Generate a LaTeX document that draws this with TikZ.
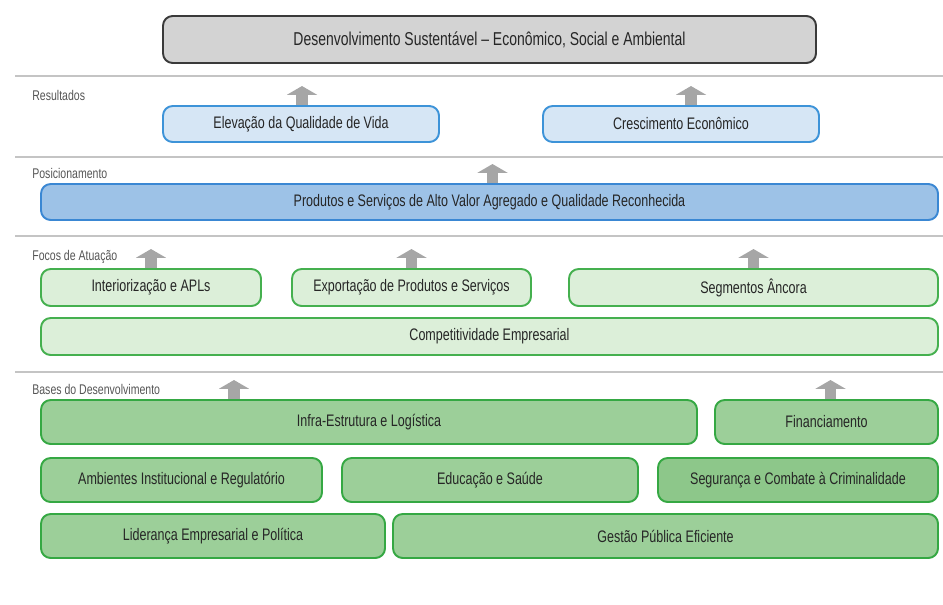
\documentclass[tikz,border=0pt]{standalone}
\usepackage{fontspec}
\setmainfont{Liberation Sans}[FakeStretch=0.75]
\usetikzlibrary{arrows.meta}

\definecolor{cinzaF}{HTML}{D3D3D3}
\definecolor{cinzaB}{HTML}{3A3A3A}
\definecolor{azulCF}{HTML}{D6E6F5}
\definecolor{azulCB}{HTML}{3D93D8}
\definecolor{azulMF}{HTML}{9DC2E7}
\definecolor{azulMB}{HTML}{3A87D3}
\definecolor{verdeCF}{HTML}{DCEFD9}
\definecolor{verdeCB}{HTML}{45B04F}
\definecolor{verdeMF}{HTML}{9CCF99}
\definecolor{verdeMB}{HTML}{35A843}
\definecolor{verdeEF}{HTML}{8DC78A}
\definecolor{textoC}{HTML}{262626}
\definecolor{rotuloC}{HTML}{555555}
\definecolor{linhaC}{HTML}{C4C4C4}
\definecolor{setaC}{HTML}{A6A6A6}

\tikzset{
  caixa/.style={draw, rounded corners=5.5pt, line width=1.1pt, inner sep=0pt,
    text=textoC, font=\fontsize{9.5}{11}\selectfont},
  topo/.style={caixa, fill=cinzaF, draw=cinzaB, font=\fontsize{10.6}{12}\selectfont},
  azulclaro/.style={caixa, fill=azulCF, draw=azulCB},
  azulmedio/.style={caixa, fill=azulMF, draw=azulMB},
  verdeclaro/.style={caixa, fill=verdeCF, draw=verdeCB},
  verdemedio/.style={caixa, fill=verdeMF, draw=verdeMB},
  verdeescuro/.style={caixa, fill=verdeEF, draw=verdeMB},
  rotulo/.style={anchor=west, inner sep=0pt, text=rotuloC, font=\fontsize{8}{9}\selectfont},
  divisa/.style={draw=linhaC, line width=1.2pt},
  seta/.style={draw=setaC, line width=6.8pt, -{Triangle[width=17pt,length=5pt]}}
}

% name, style, x1, y1, x2, y2, text
\newcommand{\bloco}[7]{%
  \node[#2, minimum width={(#5-#3)*0.02cm}, minimum height={(#6-#4)*0.02cm}]
    (#1) at ({(#3+#5)/2},{(#4+#6)/2}) {#7};}

\begin{document}
\begin{tikzpicture}[x=0.02cm,y=-0.02cm]
  \useasboundingbox (0,0) rectangle (943,605);

  % faixas
  \foreach \y in {76,157,236,372}
    \draw[divisa] (15,\y) -- (943,\y);

  \node[rotulo] (resul) at (32,95) {Resultados};
  \node[rotulo] (posic) at (32,173) {Posicionamento};
  \node[rotulo] (focos) at (32,257) {Focos de Atuação};
  \node[rotulo] (bases) at (32,389) {Bases do Desenvolvimento};

  \bloco{topo}{topo}{163}{16}{816}{63}{Desenvolvimento Sustentável – Econômico, Social e Ambiental}

  \bloco{vida}{azulclaro}{163}{106}{439}{142}{Elevação da Qualidade de Vida}
  \bloco{cresc}{azulclaro}{543}{106}{819}{142}{Crescimento Econômico}

  \bloco{prod}{azulmedio}{41}{184}{938}{220}{Produtos e Serviços de Alto Valor Agregado e Qualidade Reconhecida}

  \bloco{inter}{verdeclaro}{41}{269}{261}{306}{Interiorização e APLs}
  \bloco{expo}{verdeclaro}{292}{269}{531}{306}{Exportação de Produtos e Serviços}
  \bloco{segm}{verdeclaro}{569}{269}{938}{306}{Segmentos Âncora}
  \bloco{compet}{verdeclaro}{41}{318}{938}{355}{Competitividade Empresarial}

  \bloco{infra}{verdemedio}{41}{400}{697}{444}{Infra-Estrutura e Logística}
  \bloco{finan}{verdemedio}{715}{400}{938}{444}{Financiamento}
  \bloco{ambi}{verdemedio}{41}{458}{322}{502}{Ambientes Institucional e Regulatório}
  \bloco{educ}{verdemedio}{342}{458}{638}{502}{Educação e Saúde}
  \bloco{segur}{verdeescuro}{658}{458}{938}{502}{Segurança e Combate à Criminalidade}
  \bloco{lider}{verdemedio}{41}{514}{385}{558}{Liderança Empresarial e Política}
  \bloco{gestao}{verdemedio}{393}{514}{938}{558}{Gestão Pública Eficiente}

  % setas
  \foreach \n/\dx in {vida/1,cresc/10,prod/3,inter/0,expo/0,segm/0,infra/-135,finan/4}
    \draw[seta] ([xshift=\dx*0.02cm]\n.north) -- ++(0,-19);
\end{tikzpicture}
\end{document}
